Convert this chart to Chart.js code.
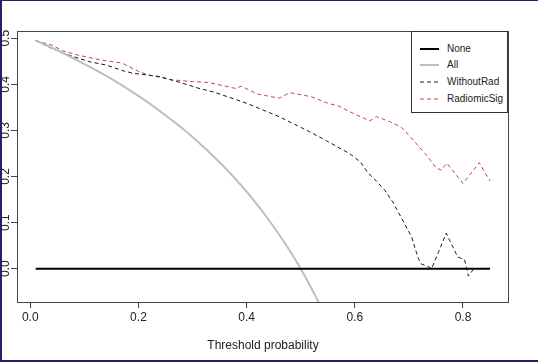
<!DOCTYPE html>
<html>
<head>
<meta charset="utf-8">
<script src="https://cdn.jsdelivr.net/npm/chart.js@4"></script>
<style>
  html, body { margin: 0; padding: 0; background: #fff; }
  #wrap { position: relative; width: 538px; height: 362px; overflow: hidden; font-family: "Liberation Sans", Arial, sans-serif; }
  #dca { position: absolute; left: 0; top: 0; }
  #frame { position: absolute; left: 0; top: 0; width: 538px; height: 362px; box-sizing: border-box;
           border-left: 2px solid #2b1b68; border-top: 1px solid #2b1b68; border-bottom: 2px solid #2b1b68; pointer-events: none; }
  #legend { position: absolute; left: 411px; top: 31px; width: 97px; height: 82px; box-sizing: border-box;
            border: 1px solid #333; background: #fff; }
  .lg-row { position: absolute; left: 0; height: 14px; width: 95px; }
  .lg-row svg { position: absolute; left: 8px; top: 0; }
  .lg-row span { position: absolute; left: 35px; top: 1px; font-size: 10px; line-height: 12px; color: #222; white-space: nowrap; }
</style>
</head>
<body>
<div id="wrap">
  <canvas id="dca" width="538" height="362"></canvas>
  <div id="legend"></div>
  <div id="frame"></div>
</div>
<script>
// decision curve data
const seriesNames = ['None', 'All', 'WithoutRad', 'RadiomicSig'];

const noneX = [0.01, 0.85];
const noneY = [0, 0];

const allX = [0.01, 0.05, 0.10, 0.15, 0.20, 0.25, 0.30, 0.35, 0.40, 0.45, 0.50, 0.55];
const allY = [0.495, 0.474, 0.444, 0.412, 0.375, 0.333, 0.286, 0.231, 0.167, 0.091, 0.0, -0.111];

const withoutRadX = [0.01, 0.04, 0.08, 0.11, 0.14, 0.17, 0.19, 0.24, 0.28, 0.31, 0.34, 0.40, 0.46, 0.52,
                     0.55, 0.59, 0.61, 0.625, 0.635, 0.655, 0.67, 0.685, 0.705, 0.717, 0.723, 0.735,
                     0.742, 0.769, 0.79, 0.803, 0.81, 0.82];
const withoutRadY = [0.495, 0.478, 0.460, 0.449, 0.442, 0.430, 0.424, 0.417, 0.403, 0.392, 0.383, 0.359, 0.330, 0.295,
                     0.276, 0.250, 0.232, 0.207, 0.196, 0.171, 0.145, 0.113, 0.069, 0.023, 0.010, 0.005,
                     0.000, 0.077, 0.026, 0.019, -0.016, 0.000];

const radiomicX = [0.01, 0.04, 0.06, 0.09, 0.13, 0.17, 0.20, 0.22, 0.26, 0.30, 0.33, 0.38, 0.39, 0.42,
                   0.46, 0.48, 0.52, 0.55, 0.57, 0.59, 0.61, 0.628, 0.64, 0.665, 0.686, 0.708, 0.732,
                   0.751, 0.76, 0.77, 0.80, 0.83, 0.85];
const radiomicY = [0.495, 0.485, 0.473, 0.463, 0.453, 0.446, 0.428, 0.420, 0.410, 0.406, 0.404, 0.391, 0.396, 0.379,
                   0.370, 0.382, 0.373, 0.359, 0.353, 0.341, 0.330, 0.321, 0.330, 0.319, 0.307, 0.279, 0.247,
                   0.218, 0.214, 0.229, 0.185, 0.230, 0.190];

const xTicks = [0.0, 0.2, 0.4, 0.6, 0.8];
const yTicks = [0.0, 0.1, 0.2, 0.3, 0.4, 0.5];

const pts = (xs, ys) => xs.map((x, i) => ({x: x, y: ys[i]}));

const styles = [
    {color: '#000000', width: 2, dash: []},
    {color: '#bebebe', width: 2, dash: []},
    {color: '#1a1a1a', width: 1, dash: [4, 3]},
    {color: '#c04848', width: 1, dash: [4, 3]}
];
const seriesData = [pts(noneX, noneY), pts(allX, allY), pts(withoutRadX, withoutRadY), pts(radiomicX, radiomicY)];

const txt = '#222';
const font12 = {family: '"Liberation Sans", Arial, sans-serif', size: 12};

// R style box round the plot region
const boxPlugin = {
    id: 'plotBox',
    afterDraw(chart) {
        const a = chart.chartArea, ctx = chart.ctx;
        ctx.save();
        ctx.strokeStyle = '#444';
        ctx.lineWidth = 1;
        ctx.strokeRect(a.left - 0.5, a.top + 0.5, a.right - a.left + 1, a.bottom - a.top);
        ctx.restore();
    }
};

new Chart(document.getElementById('dca'), {
    type: 'line',
    data: {
        datasets: seriesNames.map((n, i) => ({
            label: n,
            data: seriesData[i],
            borderColor: styles[i].color,
            borderWidth: styles[i].width,
            borderDash: styles[i].dash,
            pointRadius: 0,
            fill: false,
            cubicInterpolationMode: i === 1 ? 'monotone' : 'default',
            tension: 0
        }))
    },
    options: {
        responsive: false, animation: false,
        plugins: {legend: {display: false}, tooltip: {enabled: false}},
        layout: {padding: {top: 31, right: 30, left: 0, bottom: 0}},
        scales: {
            x: {
                type: 'linear', min: -0.0227, max: 0.8832,
                afterBuildTicks: s => { s.ticks = xTicks.map(v => ({value: v})); },
                afterFit: s => { s.height = 60; },
                grid: {drawOnChartArea: false, tickLength: 6, color: '#444'},
                border: {display: false},
                ticks: {includeBounds: false, autoSkip: false, maxRotation: 0, padding: 2, color: txt, font: font12,
                        callback: v => v.toFixed(1)},
                title: {display: true, text: 'Threshold probability', color: txt, font: font12,
                        padding: {top: 0, bottom: 9}}
            },
            y: {
                type: 'linear', min: -0.0723, max: 0.5158,
                afterBuildTicks: s => { s.ticks = yTicks.map(v => ({value: v})); },
                afterFit: s => { s.width = 18; },
                grid: {drawOnChartArea: false, tickLength: 7, color: '#444'},
                border: {display: false},
                ticks: {includeBounds: false, minRotation: 90, maxRotation: 90, crossAlign: 'center', padding: -3,
                        color: txt, font: font12, callback: v => v.toFixed(1)}
            }
        }
    },
    plugins: [boxPlugin]
});

// legend box, top right inside the plot
const lg = document.getElementById('legend');
const rowTops = [10, 26, 43, 60];
seriesNames.forEach((n, i) => {
    const st = styles[i];
    const row = document.createElement('div');
    row.className = 'lg-row';
    row.style.top = rowTops[i] + 'px';
    row.innerHTML = `<svg width="20" height="14"><line x1="0" y1="7" x2="19" y2="7" stroke="${st.color}"
        stroke-width="${st.width}" stroke-dasharray="${st.dash.join(' ') || 'none'}"/></svg><span>${n}</span>`;
    lg.appendChild(row);
});
</script>
</body>
</html>
